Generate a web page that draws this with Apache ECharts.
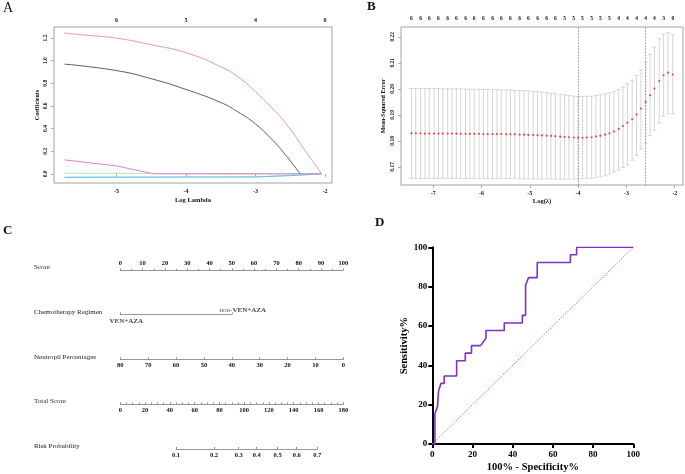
<!DOCTYPE html>
<html><head><meta charset="utf-8">
<script src="https://cdn.jsdelivr.net/npm/echarts@6/dist/echarts.min.js"></script>
<style>html,body{margin:0;padding:0;background:#fff}#c{width:685px;height:474px}</style>
</head><body><div id="c"></div>
<script>
// ---------- Panel A: coefficient paths ----------
const aBottomTicks = [-5, -4, -3, -2];
const aLeftTicks = [0.0, 0.2, 0.4, 0.6, 0.8, 1.0, 1.2];
const aTopAt = [-5, -4, -3, -2];
const aTopNz = ['6', '5', '4', '0'];
const pathRed = [[-5.75,1.244],[-5.5,1.228],[-5.0,1.198],[-4.5,1.140],[-4.0,1.070],[-3.5,0.945],[-3.26,0.860],[-3.0,0.725],[-2.73,0.56],[-2.5,0.395],[-2.31,0.225],[-2.165,0.10],[-2.05,0]];
const pathBlack = [[-5.75,0.969],[-5.0,0.912],[-4.5,0.840],[-4.0,0.745],[-3.5,0.630],[-3.26,0.550],[-3.0,0.440],[-2.75,0.295],[-2.6,0.190],[-2.45,0.075],[-2.36,0]];
const pathMagenta = [[-5.75,0.123],[-5.0,0.07],[-4.47,0],[-2.05,0]];
const pathGreen = [[-5.75,0.005],[-4.5,0.004],[-3.25,0],[-2.05,0]];
const pathBlue = [[-5.75,-0.031],[-3.0,-0.028],[-2.5,-0.016],[-2.05,0]];
const pathCyan = [[-5.75,-0.029],[-3.0,-0.026],[-2.5,-0.014],[-2.05,0]];

// ---------- Panel B: cross-validation ----------
const logLam = [-7.45,-7.36,-7.26,-7.17,-7.08,-6.98,-6.89,-6.80,-6.70,-6.61,-6.52,-6.43,-6.33,-6.24,-6.15,-6.05,-5.96,-5.87,-5.77,-5.68,-5.59,-5.49,-5.40,-5.31,-5.21,-5.12,-5.03,-4.93,-4.84,-4.75,-4.65,-4.56,-4.47,-4.37,-4.28,-4.19,-4.09,-4.00,-3.91,-3.82,-3.72,-3.63,-3.54,-3.44,-3.35,-3.26,-3.16,-3.07,-2.98,-2.88,-2.79,-2.70,-2.60,-2.51,-2.42,-2.32,-2.23,-2.14,-2.04];
const cvMean = [0.1829,0.1829,0.1829,0.1828,0.1828,0.1828,0.1828,0.1828,0.1828,0.1828,0.1828,
 0.1827,0.1827,0.1827,0.1827,0.1827,0.1826,0.1826,0.1826,0.1826,0.1826,
 0.1825,0.1825,0.1825,0.1824,0.1824,0.1823,0.1823,0.1822,0.1821,0.1820,
 0.1819,0.1818,0.1816,0.1815,0.1814,0.1813,0.1812,0.1812,0.1813,0.1814,
 0.1817,0.1820,0.1824,0.1829,0.1836,0.1846,0.1857,0.1870,0.1883,0.1901,
 0.1924,0.1949,0.1975,0.2001,0.2030,0.2052,0.2062,0.2055];
const cvUpper = [0.2001,0.2001,0.2001,0.2001,0.2001,0.2001,0.2001,0.2000,0.2000,0.2000,0.2000,
 0.2000,0.1999,0.1999,0.1999,0.1998,0.1998,0.1998,0.1997,0.1997,0.1996,
 0.1996,0.1995,0.1994,0.1993,0.1993,0.1992,0.1990,0.1989,0.1987,0.1985,
 0.1983,0.1981,0.1979,0.1977,0.1974,0.1972,0.1970,0.1970,0.1971,0.1972,
 0.1974,0.1977,0.1981,0.1985,0.1990,0.1997,0.2006,0.2019,0.2033,0.2051,
 0.2073,0.2103,0.2133,0.2160,0.2192,0.2211,0.2215,0.2207];
const cvLower = [0.1656,0.1656,0.1656,0.1656,0.1656,0.1656,0.1656,0.1656,0.1656,0.1656,0.1656,
 0.1655,0.1655,0.1655,0.1655,0.1655,0.1655,0.1655,0.1655,0.1655,0.1655,
 0.1655,0.1655,0.1655,0.1654,0.1654,0.1654,0.1654,0.1654,0.1654,0.1654,
 0.1654,0.1653,0.1653,0.1653,0.1653,0.1653,0.1653,0.1654,0.1656,0.1657,
 0.1660,0.1662,0.1666,0.1673,0.1681,0.1688,0.1698,0.1707,0.1726,0.1745,
 0.1768,0.1790,0.1820,0.1841,0.1869,0.1895,0.1905,0.1903];
const bTopNz = ['6','6','6','6','6','6','6','6','6','6','6','6','6','6','6','6','6','5','5','5','5','5','5','4','4','4','4','4','3','0'];
const bMarkers = [-4.00, -2.60];
const bBottomTicks = [-7, -6, -5, -4, -3, -2];
const bLeftTicks = [0.17, 0.18, 0.19, 0.20, 0.21, 0.22];

// ---------- Panel C: nomogram ----------
const rowNames = ['Score', 'Chemotherapy Regimen', 'Neutropil Percentages', 'Total Score', 'Risk Probability'];
const scoreMax = 100;
const chemoLevels = ['VEN+AZA', 'non-VEN+AZA'];
const chemoPoints = [0, 50];
const neutMax = 80;
const totalMax = 180;
const riskTicks = [0.1, 0.2, 0.3, 0.4, 0.5, 0.6, 0.7];
const riskPoints = [45, 75.6, 95.6, 110.1, 127.0, 142.4, 159.0];

// ---------- Panel D: ROC ----------
const rocFpr = [0,1.3,1.3,2.6,3.1,4.3,5.9,5.9,12.1,12.1,16.4,16.4,19.5,19.5,24.0,26.7,26.7,35.8,35.8,44.8,44.8,46.4,46.4,47.9,52.2,52.2,68.7,68.7,71.8,71.8,100];
const rocTpr = [0,0,15.4,19.2,26.9,30.8,30.8,34.6,34.6,42.3,42.3,46.2,46.2,50.0,50.0,53.8,57.7,57.7,61.5,61.5,65.4,65.4,80.8,84.6,84.6,92.3,92.3,96.2,96.2,100,100];
const refLine = [[0,0],[100,100]];

// ---------- build ----------
const F = 'Liberation Serif';
const lbl = (s, extra) => Object.assign({fontFamily: F, fontWeight: 'bold', fontSize: s, color: '#111'}, extra || {});
const grey = {color: '#8a8a8a', width: 0.7};
const nomoLine = {color: '#6a6a6a', width: 0.7};

const nomLeft = 120.3, nomWidth = 223;
const pxPerScore = nomWidth / scoreMax;
const pxPerTotal = nomWidth / totalMax;

const bTopAt = logLam.filter((_, i) => i % 2 === 0);

const grids = [
  {left: 54, right: 353, top: 27, bottom: 291, show: true, borderColor: '#8a8a8a', borderWidth: 0.8},
  {left: 401, right: 2, top: 27, bottom: 289, show: true, borderColor: '#8a8a8a', borderWidth: 0.8},
  {left: nomLeft, width: nomWidth, top: 269.3, height: 1},
  {left: nomLeft, width: chemoPoints[1] * pxPerScore, top: 313.3, height: 1},
  {left: nomLeft, width: nomWidth, top: 358.3, height: 1},
  {left: nomLeft, width: nomWidth, top: 403, height: 1},
  {left: nomLeft + riskPoints[0] * pxPerTotal, width: (riskPoints[riskPoints.length - 1] - riskPoints[0]) * pxPerTotal, top: 448, height: 1},
  {left: 432.3, right: 51.7, top: 247.3, bottom: 29.7}
];

const xAxes = [
  {gridIndex: 0, type: 'value', min: -5.9, max: -1.9, position: 'bottom', axisLine: {show: false},
   axisTick: {show: true, length: 3, customValues: aBottomTicks, lineStyle: grey},
   axisLabel: lbl(6, {customValues: aBottomTicks, margin: 5}), splitLine: {show: false},
   name: 'Log Lambda', nameLocation: 'middle', nameGap: 14, nameTextStyle: lbl(6.5)},
  {gridIndex: 0, type: 'value', min: -5.9, max: -1.9, position: 'top', axisLine: {show: false}, axisTick: {show: false},
   axisLabel: lbl(6, {customValues: aTopAt, margin: 4, formatter: v => aTopNz[aTopAt.indexOf(v)]}), splitLine: {show: false}},
  {gridIndex: 1, type: 'value', min: -7.666, max: -1.828, position: 'bottom', axisLine: {show: false},
   axisTick: {show: true, length: 3, customValues: bBottomTicks, lineStyle: grey},
   axisLabel: lbl(6, {customValues: bBottomTicks, margin: 5}), splitLine: {show: false},
   name: 'Log(λ)', nameLocation: 'middle', nameGap: 13, nameTextStyle: lbl(6.5)},
  {gridIndex: 1, type: 'value', min: -7.666, max: -1.828, position: 'top', axisLine: {show: false}, axisTick: {show: false},
   axisLabel: lbl(5.5, {customValues: bTopAt, margin: 5, formatter: v => bTopNz[bTopAt.indexOf(v)]}), splitLine: {show: false}},
  {gridIndex: 2, type: 'value', min: 0, max: scoreMax, interval: 10, position: 'top',
   axisLine: {lineStyle: nomoLine}, axisTick: {length: 2, lineStyle: nomoLine},
   minorTick: {show: true, splitNumber: 2, length: 1.5, lineStyle: nomoLine},
   axisLabel: lbl(6.5, {margin: 2}), splitLine: {show: false}},
  {gridIndex: 3, type: 'value', min: 0, max: chemoPoints[1], position: 'top',
   axisLine: {lineStyle: nomoLine}, axisTick: {length: 2, customValues: chemoPoints, lineStyle: nomoLine},
   axisLabel: {show: false}, splitLine: {show: false}},
  {gridIndex: 4, type: 'value', min: 0, max: neutMax, interval: 10, inverse: true, position: 'bottom',
   axisLine: {lineStyle: nomoLine}, axisTick: {inside: true, length: 2, lineStyle: nomoLine},
   axisLabel: lbl(6.5, {margin: 3}), splitLine: {show: false}},
  {gridIndex: 5, type: 'value', min: 0, max: totalMax, interval: 20, position: 'bottom',
   axisLine: {lineStyle: nomoLine}, axisTick: {inside: true, length: 2, lineStyle: nomoLine},
   minorTick: {show: true, splitNumber: 4, length: 1.5, lineStyle: nomoLine},
   axisLabel: lbl(6.5, {margin: 3}), splitLine: {show: false}},
  {gridIndex: 6, type: 'value', min: riskPoints[0], max: riskPoints[riskPoints.length - 1], position: 'bottom',
   axisLine: {lineStyle: nomoLine}, axisTick: {inside: true, length: 2, customValues: riskPoints, lineStyle: nomoLine},
   axisLabel: lbl(6.5, {margin: 3, customValues: riskPoints, formatter: v => riskTicks[riskPoints.indexOf(v)].toFixed(1)}),
   splitLine: {show: false}},
  {gridIndex: 7, type: 'value', min: 0, max: 100, interval: 20,
   axisLine: {lineStyle: {color: '#000', width: 2}}, axisTick: {length: 4, lineStyle: {color: '#000', width: 2}},
   axisLabel: lbl(9, {margin: 6, color: '#000'}), splitLine: {show: false},
   name: '100% - Specificity%', nameLocation: 'middle', nameGap: 18, nameTextStyle: lbl(10.5, {color: '#000'})}
];

const hiddenY = g => ({gridIndex: g, type: 'value', min: 0, max: 1, show: false});
const yAxes = [
  {gridIndex: 0, type: 'value', min: -0.081, max: 1.297, axisLine: {show: false},
   axisTick: {show: true, length: 3, customValues: aLeftTicks, lineStyle: grey},
   axisLabel: lbl(5.5, {customValues: aLeftTicks, rotate: 90, margin: 5, formatter: v => v.toFixed(1)}), splitLine: {show: false},
   name: 'Coefficients', nameLocation: 'middle', nameRotate: 90, nameGap: 14, nameTextStyle: lbl(6)},
  {gridIndex: 1, type: 'value', min: 0.16305, max: 0.22375, axisLine: {show: false},
   axisTick: {show: true, length: 3, customValues: bLeftTicks, lineStyle: grey},
   axisLabel: lbl(5.5, {customValues: bLeftTicks, rotate: 90, margin: 5, formatter: v => v.toFixed(2)}), splitLine: {show: false},
   name: 'Mean-Squared Error', nameLocation: 'middle', nameRotate: 90, nameGap: 15, nameTextStyle: lbl(6)},
  hiddenY(2), hiddenY(3), hiddenY(4), hiddenY(5), hiddenY(6),
  {gridIndex: 7, type: 'value', min: 0, max: 100, interval: 20,
   axisLine: {lineStyle: {color: '#000', width: 2}}, axisTick: {length: 4, lineStyle: {color: '#000', width: 2}},
   axisLabel: lbl(9, {margin: 5, color: '#000'}), splitLine: {show: false},
   name: 'Sensitivity%', nameLocation: 'middle', nameRotate: 90, nameGap: 23, nameTextStyle: lbl(10.5, {color: '#000'})}
];

const pathSeries = (data, color, sm) => ({type: 'line', xAxisIndex: 0, yAxisIndex: 0, data: data, showSymbol: false,
  smooth: sm, lineStyle: {color: color, width: 0.9}, silent: true, animation: false});

const series = [
  pathSeries(pathGreen, '#a6e6a1', false),
  pathSeries(pathCyan, '#86e3ea', false),
  pathSeries(pathBlue, '#6fb3e8', false),
  pathSeries(pathMagenta, '#d673d6', false),
  pathSeries(pathBlack, '#4a4a4a', 0.5),
  pathSeries(pathRed, '#ec88a6', 0.5),
  {type: 'custom', xAxisIndex: 2, yAxisIndex: 1, silent: true, animation: false,
   data: logLam.map((x, i) => [x, cvLower[i], cvUpper[i]]),
   encode: {x: 0, y: [1, 2]},
   renderItem: (params, api) => {
     const x = api.value(0);
     const lo = api.coord([x, api.value(1)]);
     const hi = api.coord([x, api.value(2)]);
     const w = 2.1;
     const st = {stroke: '#cbcbcb', lineWidth: 0.8};
     return {type: 'group', children: [
       {type: 'line', shape: {x1: lo[0], y1: lo[1], x2: hi[0], y2: hi[1]}, style: st},
       {type: 'line', shape: {x1: lo[0] - w, y1: lo[1], x2: lo[0] + w, y2: lo[1]}, style: st},
       {type: 'line', shape: {x1: hi[0] - w, y1: hi[1], x2: hi[0] + w, y2: hi[1]}, style: st}
     ]};
   }},
  {type: 'scatter', xAxisIndex: 2, yAxisIndex: 1, data: logLam.map((x, i) => [x, cvMean[i]]),
   symbolSize: 2.2, itemStyle: {color: '#ff1a1a'}, silent: true, animation: false,
   markLine: {symbol: 'none', silent: true, label: {show: false}, animation: false,
     lineStyle: {color: '#808080', type: [1.5, 1.5], width: 0.8},
     data: bMarkers.map(v => ({xAxis: v}))}},
  {type: 'scatter', xAxisIndex: 5, yAxisIndex: 3, symbolSize: 0, silent: true, animation: false,
   data: chemoPoints.map((p, i) => ({value: [p, 1], name: chemoLevels[i],
     label: {offset: i === 0 ? [6, 7.5] : [11, -3.5]}})),
   label: {show: true, position: 'inside',
     formatter: p => p.name.indexOf('non-') === 0 ? '{n|non-}{b|' + p.name.slice(4) + '}' : '{b|' + p.name + '}',
     rich: {n: {fontFamily: F, fontSize: 7, color: '#333'}, b: {fontFamily: F, fontSize: 7, fontWeight: 'bold', color: '#111'}}}},
  {type: 'line', xAxisIndex: 9, yAxisIndex: 7, data: refLine, showSymbol: false, silent: true, animation: false,
   lineStyle: {color: '#f26464', width: 1, type: [1.5, 1.5]}},
  {type: 'line', xAxisIndex: 9, yAxisIndex: 7, data: rocFpr.map((x, i) => [x, rocTpr[i]]), showSymbol: false,
   silent: true, animation: false, lineStyle: {color: '#7d32c8', width: 1.6}}
];

const rowY = [269, 314, 359, 403, 448];
const graphic = [
  {type: 'text', left: 3, top: 1, style: {text: 'A', font: '14px "Liberation Serif"', fill: '#111'}},
  {type: 'text', left: 367, top: 0, style: {text: 'B', font: 'bold 13px "Liberation Serif"', fill: '#111'}},
  {type: 'text', left: 3, top: 224, style: {text: 'C', font: 'bold 13px "Liberation Serif"', fill: '#111'}},
  {type: 'text', left: 375, top: 216, style: {text: 'D', font: 'bold 13px "Liberation Serif"', fill: '#111'}}
].concat(rowNames.map((t, i) => ({type: 'text', left: 34, top: rowY[i] - 5,
  style: {text: t, font: '7px "Liberation Serif"', fill: '#222'}})));

const chart = echarts.init(document.getElementById('c'), null, {renderer: 'canvas'});
chart.setOption({animation: false, backgroundColor: '#fff', grid: grids, xAxis: xAxes, yAxis: yAxes, series: series, graphic: graphic});
</script></body></html>
